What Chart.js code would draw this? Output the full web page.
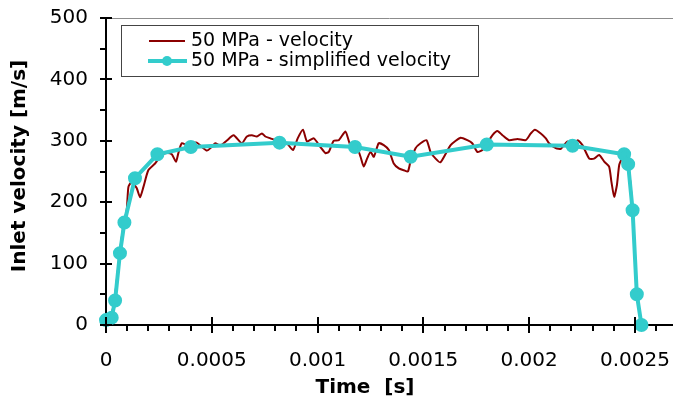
<!DOCTYPE html>
<html>
<head>
<meta charset="utf-8">
<script src="https://cdn.jsdelivr.net/npm/chart.js@4"></script>
<style>
  html, body { margin: 0; padding: 0; background: #fff; }
  #wrap { width: 673px; height: 405px; position: relative; }
</style>
</head>
<body>
<div id="wrap"><canvas id="velChart"></canvas></div>
<script>
// === Data ===
const velTime = [
  0, 0.00002, 0.00004, 0.000065, 0.000085, 0.000098, 0.000106, 0.000122, 0.000145, 0.000161,
  0.000177, 0.0002, 0.000232, 0.000264, 0.000287, 0.000311, 0.000331, 0.000342, 0.000358, 0.000382,
  0.000405, 0.000429, 0.000453, 0.000477, 0.0005, 0.000516, 0.00054, 0.00057, 0.000603, 0.000642,
  0.000666, 0.00069, 0.000713, 0.000737, 0.000753, 0.000777, 0.0008, 0.000824, 0.000855, 0.000884,
  0.000906, 0.000931, 0.00095, 0.000982, 0.001013, 0.001037, 0.001053, 0.001076, 0.0011, 0.001132,
  0.001155, 0.001187, 0.001203, 0.001218, 0.001234, 0.00125, 0.001266, 0.001289, 0.001313, 0.001337,
  0.00136, 0.001384, 0.001408, 0.001427, 0.001439, 0.001463, 0.001487, 0.001515, 0.001534, 0.001558,
  0.001581, 0.001629, 0.001676, 0.001708, 0.001731, 0.001755, 0.001779, 0.001802, 0.001826, 0.00185,
  0.001874, 0.001905, 0.001945, 0.001984, 0.002008, 0.002027, 0.002055, 0.002079, 0.002094, 0.002126,
  0.00215, 0.002181, 0.002205, 0.002229, 0.002252, 0.002284, 0.002307, 0.002331, 0.002355, 0.002378,
  0.002389, 0.002402, 0.002415, 0.002426, 0.002442, 0.002449, 0.002468, 0.002489, 0.002509, 0.002531
];
const velValue = [
  5, 12, 40, 117, 167, 187, 225, 233, 223, 208,
  225, 252, 263, 277, 280, 278, 266, 280, 296, 293,
  296, 297, 290, 284, 290, 296, 292, 300, 309, 296,
  307, 309, 307, 312, 307, 304, 301, 299, 296, 285,
  304, 318, 299, 304, 290, 280, 282, 300, 301, 315,
  293, 288, 274, 258, 271, 282, 274, 296, 293, 285,
  263, 255, 252, 250, 266, 288, 296, 301, 282, 271,
  265, 293, 305, 301, 296, 282, 285, 296, 309, 316,
  309, 301, 303, 301, 312, 318, 312, 304, 296, 288,
  287, 299, 293, 301, 293, 271, 271, 277, 266, 258,
  233, 209, 228, 261, 274, 278, 262, 187, 54, 0
];

const simpTime = [0, 0.000027, 0.000043, 0.000066, 0.000087, 0.000137, 0.000243, 0.000401, 0.00082,
  0.001177, 0.00144, 0.0018, 0.002205, 0.002449, 0.002468, 0.002489, 0.002509, 0.002531];
const simpValue = [8, 12, 40, 117, 167, 239, 278, 290, 297, 290, 274, 294, 292, 278, 262, 187, 50, 0];

const seriesLabels = ["50 MPa - velocity", "50 MPa - simplified velocity"];

const xTicks = [0, 0.0005, 0.001, 0.0015, 0.002, 0.0025];
const xTickLabels = ["0", "0.0005", "0.001", "0.0015", "0.002", "0.0025"];
const yTicks = [0, 100, 200, 300, 400, 500];
const yTickLabels = ["0", "100", "200", "300", "400", "500"];

const xTitle = "Time  [s]";
const yTitle = "Inlet velocity [m/s]";

const toPoints = (xs, ys) => xs.map((x, i) => ({ x: x, y: ys[i] }));

// === Axis ticks, frame, titles, legend ===
const decor = {
  id: "decor",
  afterDraw(chart) {
    const { ctx, chartArea: a, scales: { x, y } } = chart;
    ctx.save();

    // grey top frame line
    ctx.strokeStyle = "#8c8c8c";
    ctx.lineWidth = 1;
    ctx.beginPath();
    ctx.moveTo(a.left, a.top + 0.5);
    ctx.lineTo(a.right, a.top + 0.5);
    ctx.stroke();

    ctx.strokeStyle = "#000";
    ctx.lineWidth = 2;
    ctx.beginPath();
    // y ticks: major cross the axis, minor on the left
    for (let v = 0; v <= 500; v += 50) {
      const py = Math.round(y.getPixelForValue(v));
      const major = v % 100 === 0;
      ctx.moveTo(a.left - 6, py);
      ctx.lineTo(major ? a.left + 6 : a.left, py);
    }
    // x ticks: major cross the axis, minor below
    for (let i = 0; i <= 26; i++) {
      const px = Math.round(x.getPixelForValue(i * 0.0001));
      const major = i % 5 === 0;
      ctx.moveTo(px, major ? a.bottom - 8 : a.bottom);
      ctx.lineTo(px, a.bottom + (major ? 8 : 6));
    }
    ctx.stroke();

    // axis titles
    ctx.fillStyle = "#000";
    ctx.font = "bold 20px 'DejaVu Sans'";
    ctx.textAlign = "center";
    ctx.textBaseline = "middle";
    ctx.fillText(xTitle, 365, 388);
    ctx.translate(20, 166);
    ctx.rotate(-Math.PI / 2);
    ctx.fillText(yTitle, 0, 0);
    ctx.setTransform(1, 0, 0, 1, 0, 0);

    // legend box
    const ds = chart.data.datasets;
    ctx.fillStyle = "#fff";
    ctx.fillRect(121, 25, 357, 51);
    ctx.strokeStyle = "#444";
    ctx.lineWidth = 1;
    ctx.strokeRect(121.5, 25.5, 357, 51);

    ctx.strokeStyle = ds[0].borderColor;
    ctx.lineWidth = 2;
    ctx.beginPath();
    ctx.moveTo(149, 41);
    ctx.lineTo(185, 41);
    ctx.stroke();

    ctx.strokeStyle = ds[1].borderColor;
    ctx.lineWidth = 4;
    ctx.beginPath();
    ctx.moveTo(148, 61);
    ctx.lineTo(187, 61);
    ctx.stroke();
    ctx.fillStyle = ds[1].pointBackgroundColor;
    ctx.beginPath();
    ctx.arc(167, 61, 5, 0, Math.PI * 2);
    ctx.fill();

    ctx.fillStyle = "#000";
    ctx.font = "19px 'DejaVu Sans'";
    ctx.textAlign = "left";
    ctx.fillText(ds[0].label, 191, 41);
    ctx.fillText(ds[1].label, 191, 61);

    ctx.restore();
  }
};

new Chart(document.getElementById("velChart"), {
  type: "line",
  data: {
    datasets: [
      {
        label: seriesLabels[0],
        data: toPoints(velTime, velValue),
        borderColor: "#8b0000",
        borderWidth: 2,
        pointRadius: 0,
        tension: 0.2,
        order: 1
      },
      {
        label: seriesLabels[1],
        data: toPoints(simpTime, simpValue),
        borderColor: "#33cccc",
        backgroundColor: "#33cccc",
        pointBackgroundColor: "#33cccc",
        pointBorderColor: "#33cccc",
        borderWidth: 4,
        pointRadius: 5,
        tension: 0,
        clip: false,
        order: 0
      }
    ]
  },
  options: {
    responsive: true,
    maintainAspectRatio: false,
    animation: false,
    layout: { autoPadding: false, padding: { top: 18, right: 0, bottom: 0, left: 0 } },
    plugins: {
      legend: { display: false },
      tooltip: { enabled: false }
    },
    scales: {
      x: {
        type: "linear",
        min: 0,
        max: 0.00268,
        afterFit(scale) {
          scale.height = 80;
          scale.paddingLeft = 0;
          scale.paddingRight = 0;
        },
        afterBuildTicks(scale) { scale.ticks = xTicks.map(v => ({ value: v })); },
        grid: { display: false, drawTicks: false },
        border: { display: true, color: "#000", width: 2 },
        ticks: {
          includeBounds: false,
          maxRotation: 0,
          autoSkip: false,
          padding: 24,
          color: "#000",
          font: { family: "'DejaVu Sans'", size: 20 },
          callback: (v, i) => xTickLabels[i]
        }
      },
      y: {
        min: 0,
        max: 500,
        afterFit(scale) {
          scale.width = 106;
          scale.paddingTop = 0;
          scale.paddingBottom = 0;
        },
        afterBuildTicks(scale) { scale.ticks = yTicks.map(v => ({ value: v })); },
        grid: { display: false, drawTicks: false },
        border: { display: true, color: "#000", width: 2 },
        ticks: {
          padding: 18,
          color: "#000",
          font: { family: "'DejaVu Sans'", size: 20 },
          callback: (v, i) => yTickLabels[i]
        }
      }
    }
  },
  plugins: [decor]
});
</script>
</body>
</html>
